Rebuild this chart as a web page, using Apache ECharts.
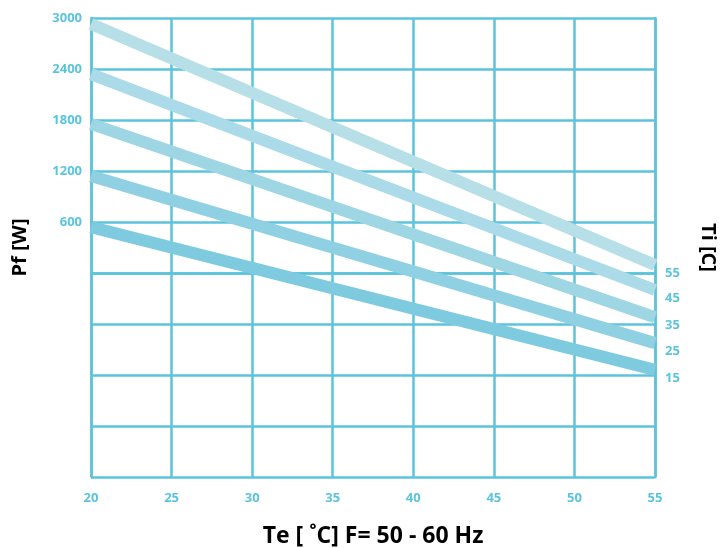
<!DOCTYPE html>
<html>
<head>
<meta charset="utf-8">
<script src="https://cdn.jsdelivr.net/npm/echarts@6/dist/echarts.min.js"></script>
<style>html,body{margin:0;padding:0;background:#fff}#c{width:726px;height:548px}</style>
</head>
<body>
<div id="c"></div>
<script>
const teRange = [20, 55];
const tiLabels = ['55', '45', '35', '25', '15'];
const pfStart = [2930, 2340, 1755, 1140, 540];
const pfEnd = [95, -200, -520, -825, -1140];
const lineColors = ['#b7dfe8', '#abdbe8', '#9fd6e4', '#8fd0e2', '#7ecbe0'];
const yTickLabels = [600, 1200, 1800, 2400, 3000];

const cyan = '#5bc4dc';
const fam = 'Open Sans';
const chart = echarts.init(document.getElementById('c'));
const series = tiLabels.map((t, i) => ({
  type: 'line',
  name: t,
  data: [[teRange[0], pfStart[i]], [teRange[1], pfEnd[i]]],
  symbol: 'none',
  lineStyle: { width: 12, color: lineColors[i], cap: 'butt' },
  z: 5,
  endLabel: {
    show: true,
    formatter: t,
    color: cyan,
    fontWeight: 'bold',
    fontSize: 13,
    fontFamily: fam,
    offset: [2, 8]
  }
}));

chart.setOption({
  animation: false,
  grid: { left: 91, right: 71, top: 18, bottom: 71, containLabel: false, outerBoundsMode: 'none' },
  xAxis: {
    type: 'value', min: 20, max: 55, interval: 5,
    name: 'Te [ ˚C] F= 50 - 60 Hz', nameLocation: 'middle', nameGap: 48,
    nameTextStyle: { color: '#000', fontWeight: 'bold', fontSize: 23, fontFamily: fam },
    axisLine: { show: true, lineStyle: { color: cyan, width: 2.5 } },
    axisTick: { show: false },
    splitLine: { show: true, lineStyle: { color: cyan, width: 2.5 } },
    axisLabel: { color: cyan, fontWeight: 'bold', fontSize: 13, fontFamily: fam, margin: 15 }
  },
  yAxis: [{
    type: 'value', min: -2400, max: 3000, interval: 600,
    name: 'Pf [W]', nameLocation: 'middle', nameGap: 61, nameRotate: 90,
    nameTextStyle: { color: '#000', fontWeight: 'bold', fontSize: 20, fontFamily: fam },
    axisLine: { show: true, lineStyle: { color: cyan, width: 2.5 } },
    axisTick: { show: false },
    splitLine: { show: true, lineStyle: { color: cyan, width: 2.5 } },
    axisLabel: {
      color: cyan, fontWeight: 'bold', fontSize: 13, fontFamily: fam, margin: 9,
      formatter: v => yTickLabels.indexOf(v) >= 0 ? String(v) : ''
    }
  }, {
    type: 'value', min: -2400, max: 3000, interval: 600, position: 'right',
    name: 'Ti [C]', nameLocation: 'middle', nameGap: 43, nameRotate: -90,
    nameTextStyle: { color: '#000', fontWeight: 'bold', fontSize: 20, fontFamily: fam },
    axisLine: { show: true, lineStyle: { color: cyan, width: 2.5 } },
    axisTick: { show: false },
    splitLine: { show: false },
    axisLabel: { show: false }
  }],
  series: series
});
</script>
</body>
</html>
